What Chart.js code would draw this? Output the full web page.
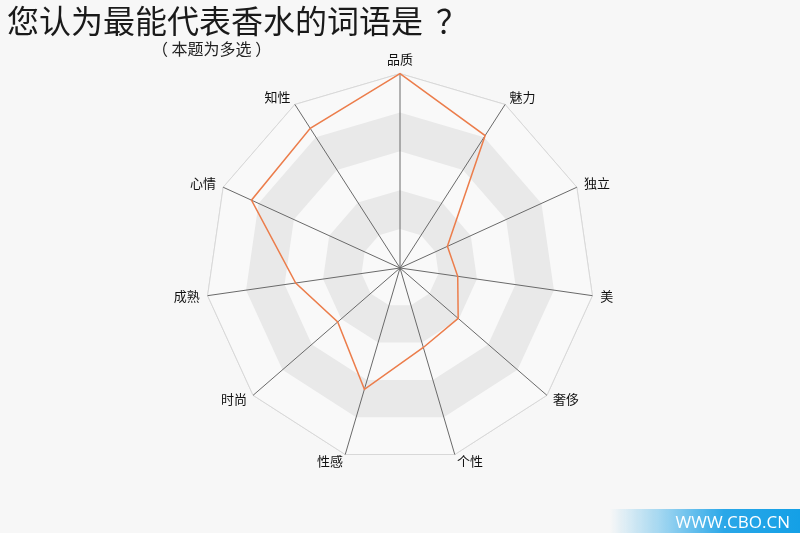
<!DOCTYPE html>
<html>
<head>
<meta charset="utf-8">
<script src="https://cdn.jsdelivr.net/npm/chart.js@4"></script>
<style>
  html, body { margin: 0; padding: 0; background: #f7f7f7; }
  #wrap { position: relative; width: 800px; height: 533px; overflow: hidden; }
  #chart { position: absolute; left: 0; top: 0; }
  .title { position: absolute; left: 7px; top: -4px; font: 32px "Noto Sans CJK SC"; color: #1a1a1a; white-space: nowrap; }
  .title .q { margin-left: 13px; }
  .sub { position: absolute; left: 152px; top: 36px; font: 16px "Noto Sans CJK SC"; color: #222; white-space: nowrap; }
  .mark { position: absolute; left: 610px; top: 509px; width: 190px; height: 24px;
          background: linear-gradient(to right, rgba(20,160,230,0) 0%, rgba(20,160,230,0.35) 25%, #2aa7e8 60%, #14a0e6 100%); }
  .mark span { position: absolute; right: 10px; top: 1px; font: 17px "Open Sans"; color: #fff; }
</style>
</head>
<body>
<div id="wrap">
  <canvas id="chart" width="800" height="533"></canvas>
  <div class="title">您认为最能代表香水的词语是<span class="q">？</span></div>
  <div class="sub">（ 本题为多选 ）</div>
  <div class="mark"><span>WWW.CBO.CN</span></div>
</div>
<script>
// ---- data ----
const categories = ['品质', '魅力', '独立', '美', '奢侈', '个性', '性感', '时尚', '成熟', '心情', '知性'];
const values     = [50, 40.5, 13.4, 15, 19.8, 21.3, 32.5, 21.2, 27.1, 42, 42.7];
const ringTicks  = [0, 10, 20, 30, 40, 50];
const grayBands  = [[10, 20], [30, 40]];   // alternating band fills

const labelFont = '13px "Noto Sans CJK SC"';

// grey polygon bands behind the data, and the category names
const bandPlugin = {
  id: 'bands',
  beforeDatasetsDraw(chart) {
    const scale = chart.scales.r;
    const ctx = chart.ctx;
    const n = categories.length;
    const poly = (v) => {
      for (let i = 0; i < n; i++) {
        const p = scale.getPointPositionForValue(i, v);
        if (i === 0) ctx.moveTo(p.x, p.y); else ctx.lineTo(p.x, p.y);
      }
      ctx.closePath();
    };
    ctx.save();
    ctx.beginPath();
    poly(ringTicks[ringTicks.length - 1]);
    ctx.fillStyle = '#f9f9f9';
    ctx.fill();
    grayBands.forEach(([a, b]) => {
      ctx.beginPath();
      poly(b);
      poly(a);
      ctx.fillStyle = '#e9e9e9';
      ctx.fill('evenodd');
    });
    ctx.beginPath();
    poly(ringTicks[ringTicks.length - 1]);
    ctx.strokeStyle = '#d8d8d8';
    ctx.lineWidth = 1;
    ctx.stroke();
    ctx.strokeStyle = '#6a6a6a';
    for (let i = 0; i < n; i++) {
      const p = scale.getPointPositionForValue(i, scale.max);
      ctx.beginPath();
      ctx.moveTo(scale.xCenter, scale.yCenter);
      ctx.lineTo(p.x, p.y);
      ctx.stroke();
    }
    ctx.restore();
  },
  afterDraw(chart) {
    // names sit just past each spoke end, vertically centred
    const scale = chart.scales.r;
    const ctx = chart.ctx;
    ctx.save();
    ctx.font = labelFont;
    ctx.fillStyle = '#111';
    categories.forEach((name, i) => {
      const p = scale.getPointPosition(i, scale.drawingArea + 8);
      const dx = p.x - scale.xCenter;
      const top = Math.abs(dx) < 1;
      ctx.textAlign = top ? 'center' : (dx > 0 ? 'left' : 'right');
      ctx.textBaseline = top ? 'bottom' : 'middle';
      ctx.fillText(name, p.x, p.y - (top ? 0 : 1));
    });
    ctx.restore();
  }
};

new Chart(document.getElementById('chart'), {
  type: 'radar',
  data: {
    labels: categories,
    datasets: [{
      data: values,
      borderColor: '#ec7d4b',
      borderWidth: 1.5,
      fill: false,
      pointRadius: 0,
      tension: 0
    }]
  },
  options: {
    responsive: false,
    animation: false,
    layout: { padding: { top: 46, bottom: 50, left: 0, right: 0 } },
    plugins: { legend: { display: false }, tooltip: { enabled: false } },
    scales: {
      r: {
        min: ringTicks[0],
        max: ringTicks[ringTicks.length - 1],
        ticks: { display: false, stepSize: 10 },
        grid: {
          color: (c) => c.tick && c.tick.value === 50 ? '#d8d8d8' : 'rgba(0,0,0,0)',
          lineWidth: 1
        },
        angleLines: { color: '#6a6a6a', lineWidth: 1 },
        pointLabels: {
          // kept for the layout fit only; names are drawn by the plugin
          color: 'rgba(0,0,0,0)',
          padding: 8,
          font: { family: 'Noto Sans CJK SC', size: 13 }
        }
      }
    }
  },
  plugins: [bandPlugin]
});
</script>
</body>
</html>
